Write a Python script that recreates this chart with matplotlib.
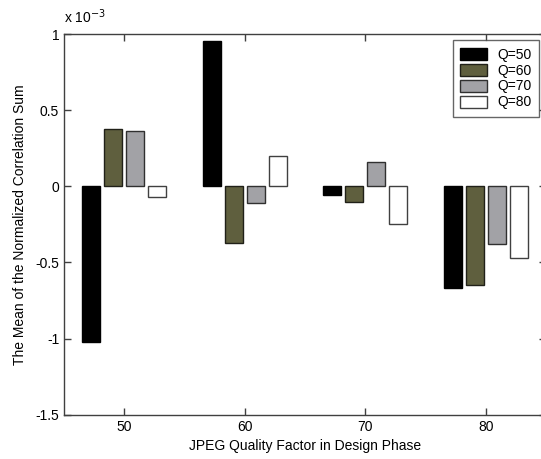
import numpy as np
import matplotlib; matplotlib.use("Agg")
import matplotlib.pyplot as plt
from matplotlib.ticker import FuncFormatter

plt.rcParams["font.family"] = ["Liberation Sans", "DejaVu Sans"]

# data (values in units of 1e-3)
design_q = [50, 60, 70, 80]
series   = ["Q=50", "Q=60", "Q=70", "Q=80"]
q50 = [-1.02, 0.955, -0.06, -0.67]
q60 = [0.375, -0.37, -0.10, -0.65]
q70 = [0.36, -0.11, 0.16, -0.38]
q80 = [-0.07, 0.20, -0.25, -0.47]
SCALE = 1e-3

colors = ["#000000", "#5f5f3e", "#a2a2a6", "#ffffff"]
edges  = ["#000000", "#202018", "#303030", "#404040"]

fig = plt.figure(figsize=(5.41, 4.59), dpi=100)
ax = fig.add_axes([0.1183, 0.0965, 0.891, 0.8294])

x = np.array(design_q, dtype=float)
slot = 1.82
offsets = (np.arange(4) - 1.5) * slot
for i, (vals, lab) in enumerate(zip([q50, q60, q70, q80], series)):
    ax.bar(x + offsets[i], np.array(vals) * SCALE, width=1.5,
           color=colors[i], edgecolor=edges[i], lw=1.0, label=lab)

ax.set_xlim(45, 85)
ax.set_ylim(-1.5e-3, 1e-3)
ax.set_xticks(design_q)
ax.set_yticks(np.arange(-1.5, 1.01, 0.5) * SCALE)
ax.yaxis.set_major_formatter(FuncFormatter(lambda v, p: f"{v / SCALE:g}"))
ax.tick_params(direction="in", top=True, right=True, length=5,
               labelsize=10, color="#404040", width=1.0)
for s in ax.spines.values():
    s.set_color("#404040")
    s.set_linewidth(1.0)

ax.text(0.0, 1.02, r"x 10$^{-3}$", transform=ax.transAxes,
        fontsize=10, ha="left", va="bottom")
ax.set_xlabel("JPEG Quality Factor in Design Phase", fontsize=10, labelpad=4)
ax.set_ylabel("The Mean of the Normalized Correlation Sum", fontsize=10, labelpad=6)

leg = ax.legend(loc="upper right", bbox_to_anchor=(0.996, 0.913),
                bbox_transform=fig.transFigure, fontsize=10, frameon=True,
                fancybox=False, edgecolor="#404040", handlelength=1.95,
                handleheight=0.95, handletextpad=0.7, borderpad=0.55,
                labelspacing=0.14, borderaxespad=0)
leg.get_frame().set_linewidth(1.0)

plt.savefig("out.png", dpi=100)
